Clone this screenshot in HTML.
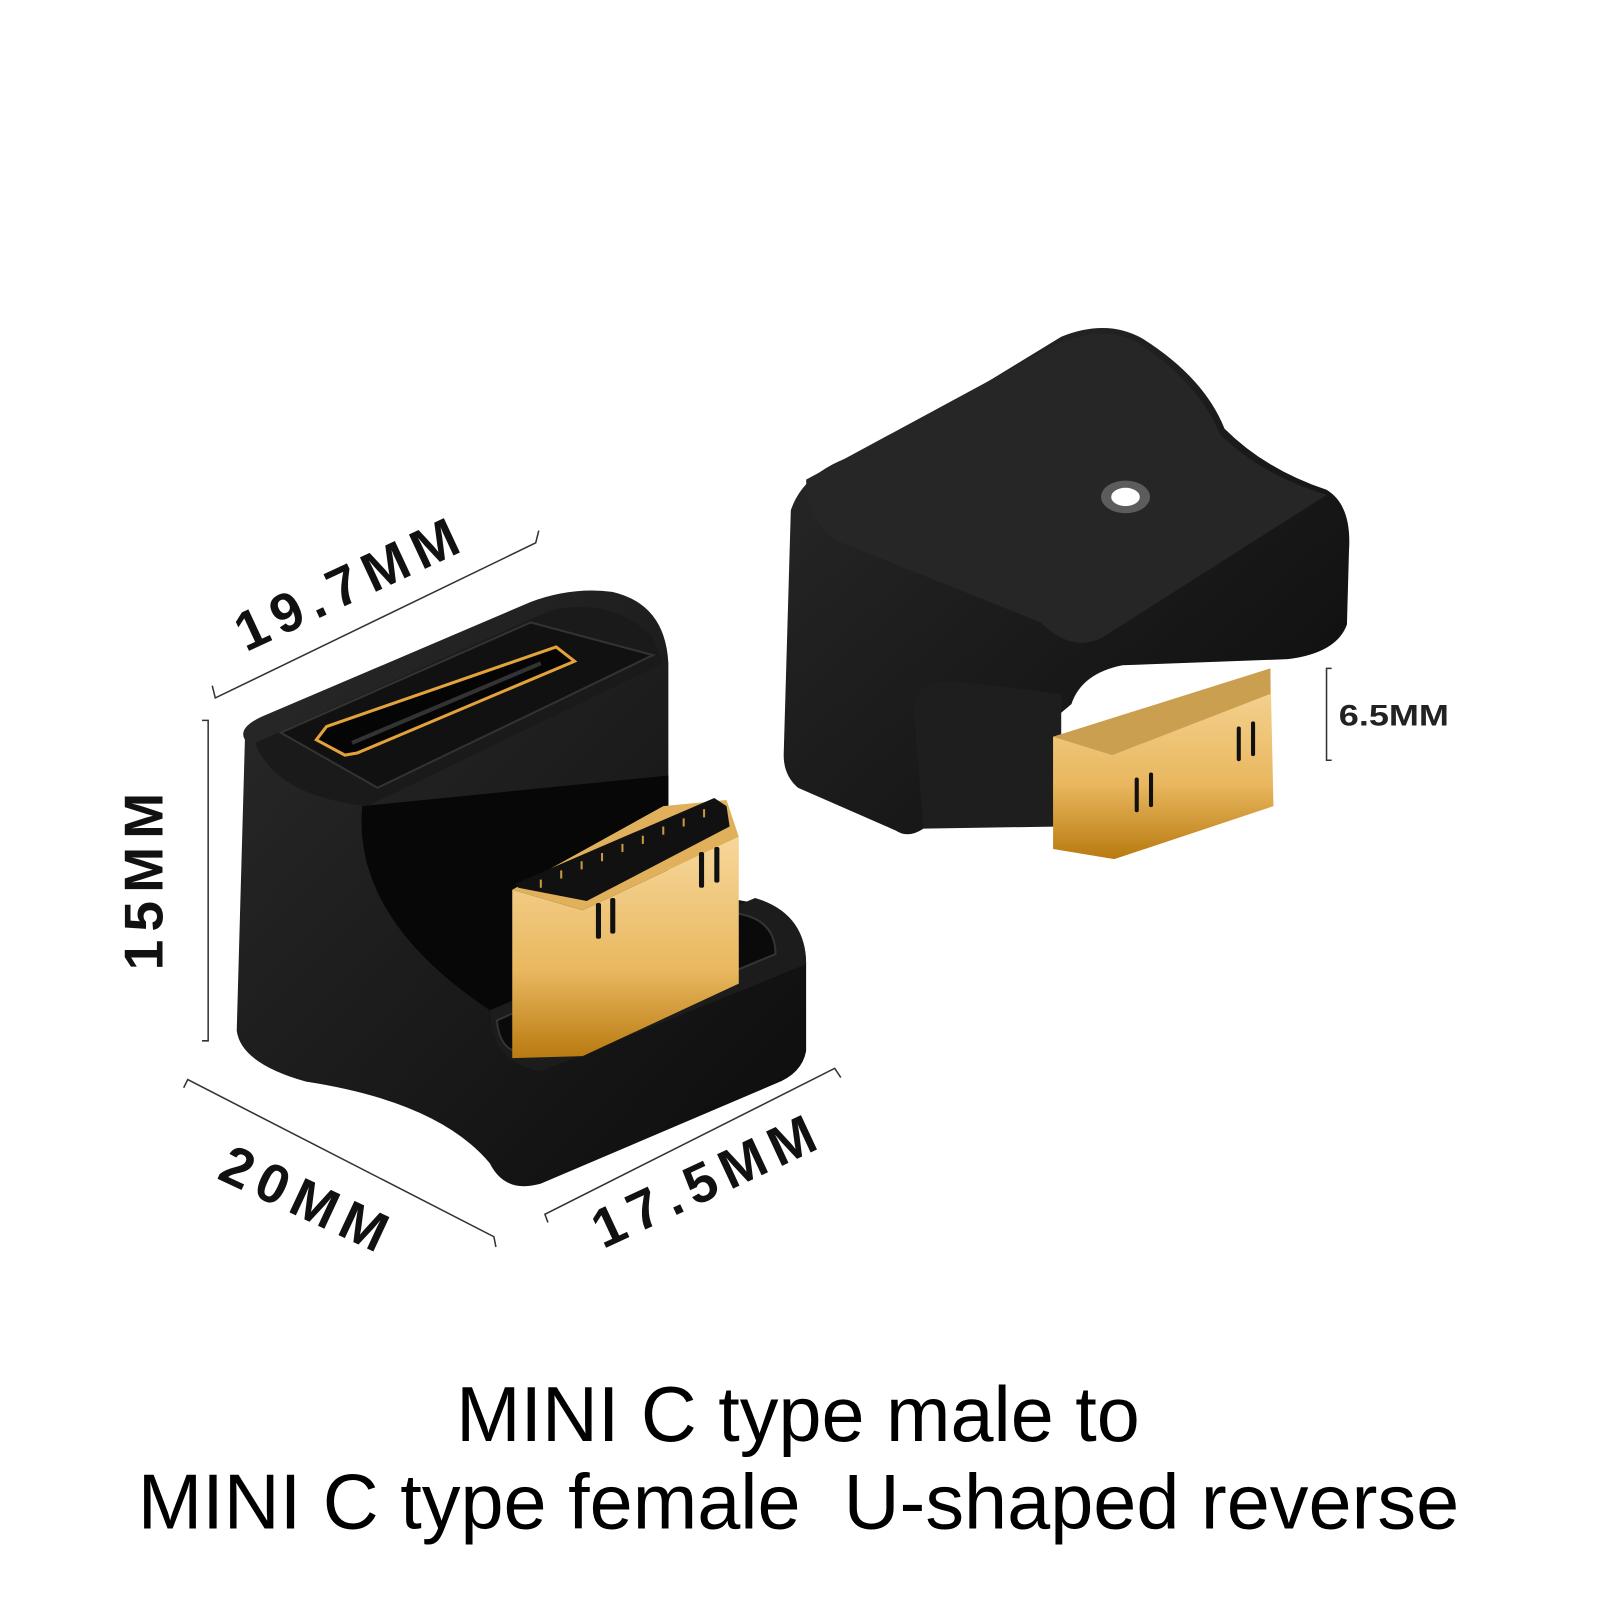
<!DOCTYPE html>
<html><head><meta charset="utf-8"><style>
html,body{margin:0;padding:0;background:#fff;}
svg{display:block;}
</style></head><body>
<svg width="1600" height="1600" viewBox="0 0 1568 1568" xmlns="http://www.w3.org/2000/svg">
<defs>
<linearGradient id="gold" x1="0" y1="0" x2="0" y2="1">
<stop offset="0" stop-color="#f6d79a"/><stop offset="0.6" stop-color="#e9b860"/><stop offset="1" stop-color="#b97a10"/>
</linearGradient>
<linearGradient id="body" x1="0" y1="0" x2="1" y2="1">
<stop offset="0" stop-color="#2a2a2a"/><stop offset="1" stop-color="#0c0c0c"/>
</linearGradient>
</defs>
<rect width="1568" height="1568" fill="#fff"/>

<!-- Left device -->
<path d="M240,725 Q232,712 262,700 L520,590 Q560,575 600,580 Q652,592 655,650 L655,870 L740,885 Q790,895 790,945 L790,1030 Q786,1052 760,1062 L530,1160 Q495,1170 480,1140 Q430,1080 300,1060 Q236,1042 232,1010 Z" fill="url(#body)"/>
<path d="M250,728 L540,598 Q600,585 640,625 L650,650 L360,790 Q270,780 250,728 Z" fill="#1a1a1a"/>
<path d="M275,718 L520,610 L640,642 L370,772 Z" fill="#111" stroke="#333" stroke-width="2"/>
<path d="M310,725 L320,712 L545,634 L563,648 L350,738 L338,740 Z" fill="#050505" stroke="#e3a23a" stroke-width="3"/>
<path d="M345,728 L530,650" stroke="#333" stroke-width="4"/>
<path d="M355,790 Q345,900 480,990 L480,1000 L655,880 L655,760 Z" fill="#070707"/>
<path d="M480,990 L740,880 Q790,895 790,945 L530,1050 Q480,1040 480,990 Z" fill="#1c1c1c"/>
<path d="M487,1000 Q490,1040 530,1030 L760,935 Q760,900 720,895 Z" fill="#0a0a0a" stroke="#333" stroke-width="2"/>
<!-- gold connector -->
<path d="M502,872 L571,892 L724,820 L724,964 L571,1035 L502,1037 Z" fill="url(#gold)"/>
<path d="M502,872 L571,892 L724,820 L712,784 L650,790 Z" fill="#e0b05a"/>
<path d="M505,866 L700,782 L712,790 L715,810 L575,883 L508,870 Z" fill="#111"/>
<g stroke="#c89a40" stroke-width="2">
<line x1="530" y1="870" x2="530" y2="862"/><line x1="550" y1="861" x2="550" y2="853"/><line x1="570" y1="852" x2="570" y2="844"/><line x1="590" y1="844" x2="590" y2="836"/><line x1="610" y1="835" x2="610" y2="827"/><line x1="630" y1="827" x2="630" y2="819"/><line x1="650" y1="818" x2="650" y2="810"/><line x1="670" y1="810" x2="670" y2="802"/><line x1="690" y1="801" x2="690" y2="793"/>
</g>
<g fill="#111"><rect x="584" y="885" width="5" height="35" rx="2"/><rect x="598" y="880" width="5" height="35" rx="2"/><rect x="685" y="835" width="5" height="35" rx="2"/><rect x="700" y="830" width="5" height="35" rx="2"/></g>

<!-- Right device -->
<path d="M775,500 Q790,455 860,440 L1040,330 Q1085,312 1120,332 Q1180,370 1200,420 Q1240,460 1300,480 Q1325,495 1322,540 L1320,612 Q1310,640 1262,646 L1100,652 Q1060,660 1050,690 L905,812 Q890,822 878,814 L782,772 Q768,760 768,740 Z" fill="url(#body)"/>
<path d="M790,470 L1040,335 Q1085,318 1115,336 Q1175,375 1195,425 Q1235,465 1300,485 L1080,625 Q1050,640 1020,610 L820,530 Q790,510 790,470 Z" fill="#262626"/>
<path d="M895,690 Q900,665 940,668 L1040,680 L1040,810 L905,812 Z" fill="#1e1e1e"/>
<path d="M1032,722 L1245,655 L1248,790 L1092,842 L1032,832 Z" fill="url(#gold)"/>
<path d="M1032,722 L1090,740 L1245,680 L1245,655 Z" fill="#caa050"/>
<g fill="#111"><rect x="1112" y="762" width="4" height="34" rx="2"/><rect x="1126" y="757" width="4" height="34" rx="2"/><rect x="1212" y="712" width="4" height="34" rx="2"/><rect x="1226" y="707" width="4" height="34" rx="2"/></g>
<ellipse cx="1103" cy="487" rx="14" ry="9" fill="#fff"/>
<ellipse cx="1103" cy="487" rx="24" ry="16" fill="#fff" opacity="0.25"/>

<!-- Dimension lines -->
<g stroke="#333" stroke-width="1.5" fill="none">
<path d="M208,672 L211,684 L525,532 L528,520"/>
<path d="M198,706 L204,706 L204,1020 L198,1020"/>
<path d="M180,1066 L184,1058 L484,1212 L486,1222"/>
<path d="M537,1198 L534,1190 L818,1047 L824,1056"/>
<path d="M1305,655 L1300,655 L1300,745 L1305,745"/>
</g>
<g font-family="Liberation Sans, sans-serif" font-weight="bold" fill="#111" font-size="54" letter-spacing="8">
<text transform="translate(345,575) rotate(-25)" text-anchor="middle" dominant-baseline="middle">19.7MM</text>
<text transform="translate(145,860) rotate(-90)" text-anchor="middle" dominant-baseline="middle">15MM</text>
<text transform="translate(300,1180) rotate(25)" text-anchor="middle" dominant-baseline="middle">20MM</text>
<text transform="translate(695,1160) rotate(-25)" text-anchor="middle" dominant-baseline="middle">17.5MM</text>
</g>
<text x="1312" y="711" font-family="Liberation Sans, sans-serif" font-weight="bold" font-size="29" fill="#222" textLength="108" lengthAdjust="spacingAndGlyphs">6.5MM</text>

<g font-family="Liberation Sans, sans-serif" font-size="76" fill="#000">
<text x="447" y="1412" textLength="670" lengthAdjust="spacingAndGlyphs">MINI C type male to</text>
<text x="135" y="1498" textLength="1295" lengthAdjust="spacingAndGlyphs" xml:space="preserve">MINI C type female  U-shaped reverse</text>
</g>
</svg>
</body></html>
